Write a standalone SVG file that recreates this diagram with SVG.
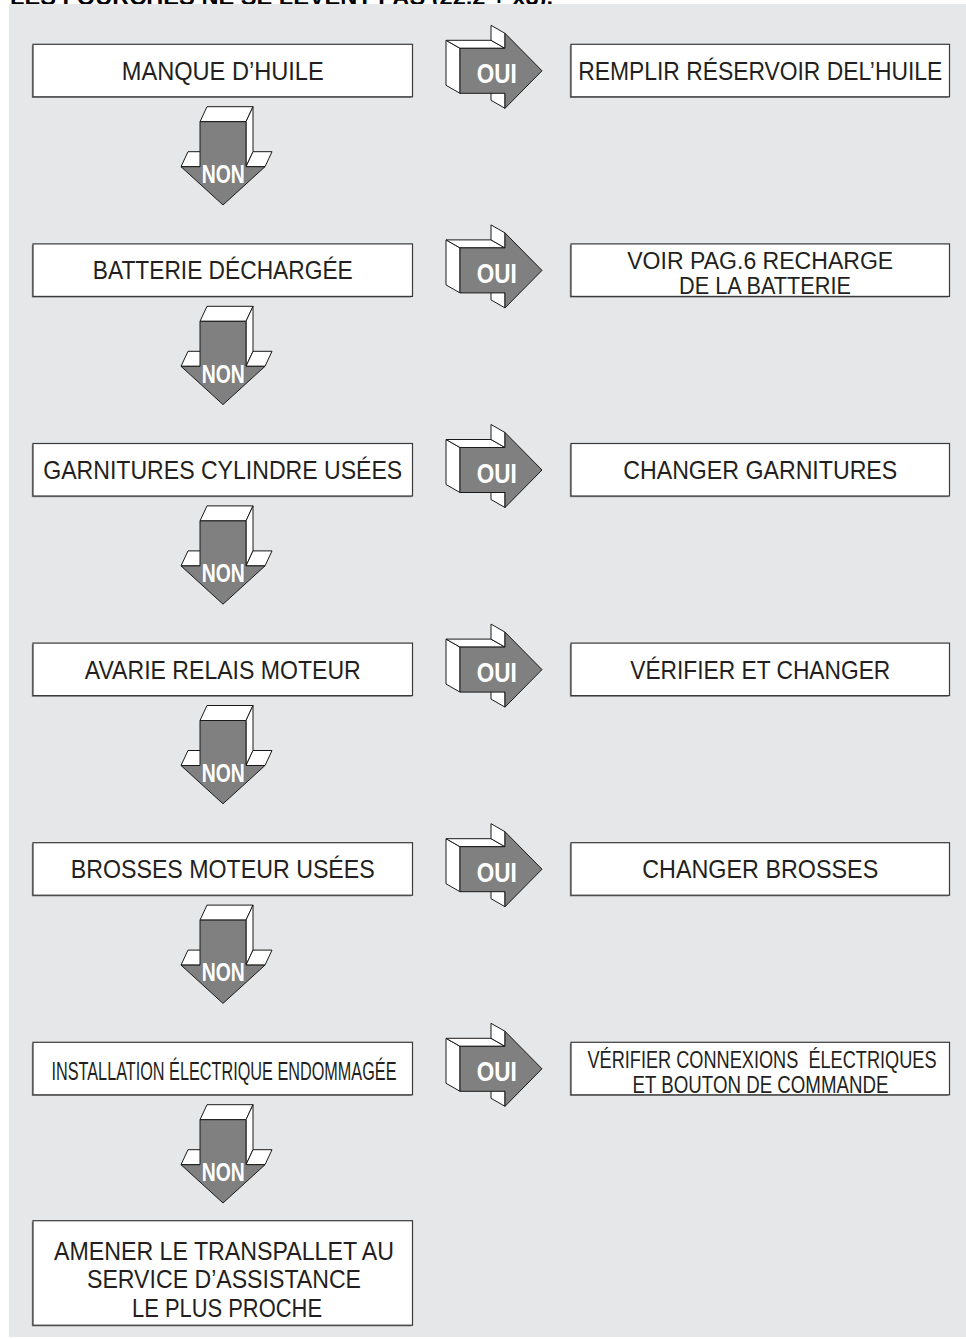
<svg xmlns="http://www.w3.org/2000/svg" width="966" height="1339" viewBox="0 0 966 1339">
<style>
.box{fill:#ffffff;stroke:#3a3a3a;stroke-width:1.2}
.shd{fill:#8a8a8a}
.t{font-family:"Liberation Sans",Arial,sans-serif;font-size:25.5px;fill:#231f20;text-anchor:middle}
.t2{font-family:"Liberation Sans",Arial,sans-serif;font-size:23.5px;fill:#231f20;text-anchor:middle}
.lbl{font-family:"Liberation Sans",Arial,sans-serif;font-weight:bold;fill:#ffffff;text-anchor:middle}
.face{fill:#ffffff;stroke:#1a1a1a;stroke-width:1;stroke-linejoin:miter}
.front{fill:#808080;stroke:#1a1a1a;stroke-width:1;stroke-linejoin:miter}
.hdr{font-family:"Liberation Sans",Arial,sans-serif;font-weight:bold;font-size:23.5px;fill:#000000}
</style>
<defs>
<g id="ouiArrow">
<path class="face" d="M0,0 L-14,-8 V37 L0,45 Z"/>
<path class="face" d="M0,0 L-14,-8 H31 L45,0 Z"/>
<path class="face" d="M45,0 L31,-8 V-23 L45,-15 Z"/>
<path class="face" d="M45,45 L31,37 V52 L45,60 Z"/>
<path class="front" d="M0,0 H45 V-15 L82,22.5 L45,60 V45 H0 Z"/>
</g>
<g id="nonArrow">
<path class="face" d="M0,0 L7,-15 H53 L46,0 Z"/>
<path class="face" d="M46,0 L53,-15 V30 L46,45 Z"/>
<path class="face" d="M46,45 L53,30 H72 L65,45 Z"/>
<path class="face" d="M-19,45 L-12,30 H7 L0,45 Z"/>
<path class="front" d="M0,0 H46 V45 H65 L23,83.3 L-19,45 H0 Z"/>
</g>
</defs>

<text class="hdr" x="10" y="4.5" textLength="543" lengthAdjust="spacingAndGlyphs">LES FOURCHES NE SE LÈVENT PAS (22,2 + x3).</text>
<rect x="9" y="4" width="957" height="1333" fill="#e6e7e8"/>

<g id="connectors">
<use href="#ouiArrow" x="460" y="48.3"/>
<use href="#nonArrow" x="200" y="121.7"/>
<use href="#ouiArrow" x="460" y="247.9"/>
<use href="#nonArrow" x="200" y="321.3"/>
<use href="#ouiArrow" x="460" y="447.5"/>
<use href="#nonArrow" x="200" y="520.9"/>
<use href="#ouiArrow" x="460" y="647.1"/>
<use href="#nonArrow" x="200" y="720.5"/>
<use href="#ouiArrow" x="460" y="846.7"/>
<use href="#nonArrow" x="200" y="920.1"/>
<use href="#ouiArrow" x="460" y="1046.3"/>
<use href="#nonArrow" x="200" y="1119.7"/>
<text class="lbl" font-size="27" x="496.7" y="83.3" textLength="40" lengthAdjust="spacingAndGlyphs">OUI</text>
<text class="lbl" font-size="25.5" x="223.3" y="183" textLength="43" lengthAdjust="spacingAndGlyphs">NON</text>
<text class="lbl" font-size="27" x="496.7" y="282.9" textLength="40" lengthAdjust="spacingAndGlyphs">OUI</text>
<text class="lbl" font-size="25.5" x="223.3" y="382.6" textLength="43" lengthAdjust="spacingAndGlyphs">NON</text>
<text class="lbl" font-size="27" x="496.7" y="482.5" textLength="40" lengthAdjust="spacingAndGlyphs">OUI</text>
<text class="lbl" font-size="25.5" x="223.3" y="582.2" textLength="43" lengthAdjust="spacingAndGlyphs">NON</text>
<text class="lbl" font-size="27" x="496.7" y="682.1" textLength="40" lengthAdjust="spacingAndGlyphs">OUI</text>
<text class="lbl" font-size="25.5" x="223.3" y="781.8" textLength="43" lengthAdjust="spacingAndGlyphs">NON</text>
<text class="lbl" font-size="27" x="496.7" y="881.7" textLength="40" lengthAdjust="spacingAndGlyphs">OUI</text>
<text class="lbl" font-size="25.5" x="223.3" y="981.4" textLength="43" lengthAdjust="spacingAndGlyphs">NON</text>
<text class="lbl" font-size="27" x="496.7" y="1081.3" textLength="40" lengthAdjust="spacingAndGlyphs">OUI</text>
<text class="lbl" font-size="25.5" x="223.3" y="1181" textLength="43" lengthAdjust="spacingAndGlyphs">NON</text>
</g>

<g id="q1">
<rect class="shd" x="31.8" y="45.5" width="379.5" height="52.5"/>
<rect class="box" x="33" y="44.3" width="379.5" height="52.5"/>
<text class="t" x="222.75" y="79.7" textLength="202" lengthAdjust="spacingAndGlyphs">MANQUE D’HUILE</text>
</g>
<g id="a1">
<rect class="shd" x="569.8" y="45.5" width="378.5" height="52.5"/>
<rect class="box" x="571" y="44.3" width="378.5" height="52.5"/>
<text class="t" x="760.25" y="79.7" textLength="364" lengthAdjust="spacingAndGlyphs">REMPLIR RÉSERVOIR DEL’HUILE</text>
</g>

<g id="q2">
<rect class="shd" x="31.8" y="245.1" width="379.5" height="52.5"/>
<rect class="box" x="33" y="243.9" width="379.5" height="52.5"/>
<text class="t" x="222.75" y="279.3" textLength="260" lengthAdjust="spacingAndGlyphs">BATTERIE DÉCHARGÉE</text>
</g>
<g id="a2">
<rect class="shd" x="569.8" y="245.1" width="378.5" height="52.5"/>
<rect class="box" x="571" y="243.9" width="378.5" height="52.5"/>
<text class="t2" x="760.25" y="268.8" textLength="266" lengthAdjust="spacingAndGlyphs">VOIR PAG.6 RECHARGE</text>
<text class="t2" x="765" y="293.6" textLength="172" lengthAdjust="spacingAndGlyphs">DE LA BATTERIE</text>
</g>

<g id="q3">
<rect class="shd" x="31.8" y="444.7" width="379.5" height="52.5"/>
<rect class="box" x="33" y="443.5" width="379.5" height="52.5"/>
<text class="t" x="222.75" y="478.9" textLength="359" lengthAdjust="spacingAndGlyphs">GARNITURES CYLINDRE USÉES</text>
</g>
<g id="a3">
<rect class="shd" x="569.8" y="444.7" width="378.5" height="52.5"/>
<rect class="box" x="571" y="443.5" width="378.5" height="52.5"/>
<text class="t" x="760.25" y="478.9" textLength="274" lengthAdjust="spacingAndGlyphs">CHANGER GARNITURES</text>
</g>

<g id="q4">
<rect class="shd" x="31.8" y="644.3" width="379.5" height="52.5"/>
<rect class="box" x="33" y="643.1" width="379.5" height="52.5"/>
<text class="t" x="222.75" y="678.5" textLength="276" lengthAdjust="spacingAndGlyphs">AVARIE RELAIS MOTEUR</text>
</g>
<g id="a4">
<rect class="shd" x="569.8" y="644.3" width="378.5" height="52.5"/>
<rect class="box" x="571" y="643.1" width="378.5" height="52.5"/>
<text class="t" x="760.25" y="678.5" textLength="260" lengthAdjust="spacingAndGlyphs">VÉRIFIER ET CHANGER</text>
</g>

<g id="q5">
<rect class="shd" x="31.8" y="843.9" width="379.5" height="52.5"/>
<rect class="box" x="33" y="842.7" width="379.5" height="52.5"/>
<text class="t" x="222.75" y="878.1" textLength="304" lengthAdjust="spacingAndGlyphs">BROSSES MOTEUR USÉES</text>
</g>
<g id="a5">
<rect class="shd" x="569.8" y="843.9" width="378.5" height="52.5"/>
<rect class="box" x="571" y="842.7" width="378.5" height="52.5"/>
<text class="t" x="760.25" y="878.1" textLength="236" lengthAdjust="spacingAndGlyphs">CHANGER BROSSES</text>
</g>

<g id="q6">
<rect class="shd" x="31.8" y="1043.5" width="379.5" height="52.5"/>
<rect class="box" x="33" y="1042.3" width="379.5" height="52.5"/>
<text class="t" x="224" y="1079.5" textLength="345" lengthAdjust="spacingAndGlyphs">INSTALLATION ÉLECTRIQUE ENDOMMAGÉE</text>
</g>
<g id="a6">
<rect class="shd" x="569.8" y="1043.5" width="378.5" height="52.5"/>
<rect class="box" x="571" y="1042.3" width="378.5" height="52.5"/>
<text class="t2" xml:space="preserve" x="762" y="1067.5" textLength="349" lengthAdjust="spacingAndGlyphs">VÉRIFIER CONNEXIONS  ÉLECTRIQUES</text>
<text class="t2" x="760.5" y="1092.5" textLength="256" lengthAdjust="spacingAndGlyphs">ET BOUTON DE COMMANDE</text>
</g>

<g id="final">
<rect class="shd" x="31.8" y="1221.9" width="379.5" height="104.5"/>
<rect class="box" x="33" y="1220.7" width="379.5" height="104.5"/>
<text class="t" x="224" y="1260" textLength="340" lengthAdjust="spacingAndGlyphs">AMENER LE TRANSPALLET AU</text>
<text class="t" x="224" y="1288.3" textLength="274" lengthAdjust="spacingAndGlyphs">SERVICE D’ASSISTANCE</text>
<text class="t" x="227" y="1316.5" textLength="190" lengthAdjust="spacingAndGlyphs">LE PLUS PROCHE</text>
</g>
</svg>
